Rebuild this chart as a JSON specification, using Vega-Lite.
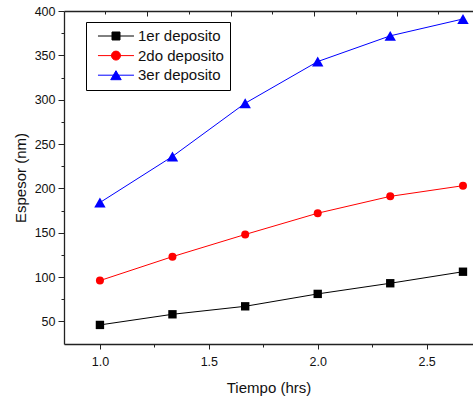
{
  "$schema": "https://vega.github.io/schema/vega-lite/v6.json",
  "width": 409,
  "height": 333,
  "autosize": {"type": "none"},
  "padding": {"left": 64, "top": 11, "right": 0, "bottom": 54},
  "background": "white",
  "config": {
    "font": "Liberation Sans",
    "view": {"stroke": null},
    "axis": {
      "grid": false,
      "domainColor": "#222222",
      "domainWidth": 1.3,
      "tickColor": "#222222",
      "tickWidth": 1,
      "labelColor": "#111111",
      "titleColor": "#111111",
      "labelFont": "Liberation Sans",
      "titleFont": "Liberation Sans",
      "labelFontSize": 12.5,
      "titleFontSize": 15,
      "titleFontWeight": "normal"
    }
  },
  "data": {
    "values": [
      {"tiempo": 1.0, "espesor": 46, "serie": "1er deposito"},
      {"tiempo": 1.333, "espesor": 58, "serie": "1er deposito"},
      {"tiempo": 1.667, "espesor": 67, "serie": "1er deposito"},
      {"tiempo": 2.0, "espesor": 81, "serie": "1er deposito"},
      {"tiempo": 2.333, "espesor": 93, "serie": "1er deposito"},
      {"tiempo": 2.667, "espesor": 106, "serie": "1er deposito"},
      {"tiempo": 1.0, "espesor": 96, "serie": "2do deposito"},
      {"tiempo": 1.333, "espesor": 123, "serie": "2do deposito"},
      {"tiempo": 1.667, "espesor": 148, "serie": "2do deposito"},
      {"tiempo": 2.0, "espesor": 172, "serie": "2do deposito"},
      {"tiempo": 2.333, "espesor": 191, "serie": "2do deposito"},
      {"tiempo": 2.667, "espesor": 203, "serie": "2do deposito"},
      {"tiempo": 1.0, "espesor": 184, "serie": "3er deposito"},
      {"tiempo": 1.333, "espesor": 236, "serie": "3er deposito"},
      {"tiempo": 1.667, "espesor": 296, "serie": "3er deposito"},
      {"tiempo": 2.0, "espesor": 343, "serie": "3er deposito"},
      {"tiempo": 2.333, "espesor": 372, "serie": "3er deposito"},
      {"tiempo": 2.667, "espesor": 391, "serie": "3er deposito"}
    ]
  },
  "encoding": {
    "x": {
      "field": "tiempo",
      "type": "quantitative",
      "scale": {"domain": [0.835, 2.713], "nice": false, "zero": false},
      "axis": null
    },
    "y": {
      "field": "espesor",
      "type": "quantitative",
      "scale": {"domain": [24.5, 400], "nice": false, "zero": false},
      "axis": {
        "title": "Espesor (nm)",
        "values": [50, 75, 100, 125, 150, 175, 200, 225, 250, 275, 300, 325, 350, 375, 400],
        "labelExpr": "datum.value % 50 === 0 ? datum.value : ''",
        "tickSize": {"condition": {"test": "datum.value % 50 === 0", "value": 6}, "value": 3},
        "labelPadding": 3,
        "labelFlush": false,
        "titlePadding": 6
      }
    }
  },
  "layer": [
    {
      "mark": {"type": "line", "strokeWidth": 1},
      "encoding": {
        "x": {
          "field": "tiempo",
          "type": "quantitative",
          "axis": {
            "orient": "bottom",
            "title": "Tiempo (hrs)",
            "values": [1, 1.25, 1.5, 1.75, 2, 2.25, 2.5],
            "labelExpr": "(datum.value * 2) % 1 === 0 ? format(datum.value, '.1f') : ''",
            "tickSize": {"condition": {"test": "(datum.value * 2) % 1 === 0", "value": 5}, "value": 3},
            "labelPadding": 6,
            "labelFlush": false,
            "titlePadding": 13
          }
        },
        "color": {
          "field": "serie",
          "type": "nominal",
          "scale": {
            "domain": ["1er deposito", "2do deposito", "3er deposito"],
            "range": ["#000000", "#ff0000", "#0000ff"]
          },
          "legend": {
            "title": null,
            "orient": "none",
            "legendX": 22,
            "legendY": 11,
            "padding": 6,
            "strokeColor": "#000000",
            "fillColor": "#ffffff",
            "labelFont": "Liberation Sans",
            "labelFontSize": 15,
            "labelColor": "#111111",
            "labelOffset": 30,
            "rowPadding": 3.6,
            "symbolSize": 225,
            "symbolStrokeWidth": 1,
            "symbolOpacity": 1
          }
        }
      }
    },
    {
      "transform": [{"filter": "datum.serie === '1er deposito'"}],
      "mark": {"type": "point", "shape": "square", "filled": true, "opacity": 1, "size": 70, "color": "#000000"},
      "encoding": {
        "x": {
          "field": "tiempo",
          "type": "quantitative",
          "axis": {
            "orient": "top",
            "title": null,
            "labels": false,
            "values": [1.023, 1.216, 1.409, 1.601, 1.79, 1.983, 2.175, 2.364, 2.552],
            "tickSize": {"condition": {"test": "indexof([1.216, 1.601, 1.983, 2.364], datum.value) >= 0", "value": -5}, "value": -3}
          }
        }
      }
    },
    {
      "transform": [{"filter": "datum.serie === '2do deposito'"}],
      "mark": {"type": "point", "shape": "circle", "filled": true, "opacity": 1, "size": 64, "color": "#ff0000"}
    },
    {
      "transform": [{"filter": "datum.serie === '3er deposito'"}],
      "mark": {"type": "point", "shape": "triangle-up", "filled": true, "opacity": 1, "size": 130, "color": "#0000ff"}
    },
    {
      "transform": [{"filter": "false"}],
      "mark": {"type": "point", "filled": true, "opacity": 1, "size": 225, "strokeWidth": 1},
      "encoding": {
        "fill": {
          "field": "serie",
          "type": "nominal",
          "scale": {
            "domain": ["1er deposito", "2do deposito", "3er deposito"],
            "range": ["#000000", "#ff0000", "#0000ff"]
          },
          "legend": {
            "title": null,
            "orient": "none",
            "legendX": 22,
            "legendY": 11,
            "padding": 6,
            "strokeColor": "#000000",
            "fillColor": "#ffffff",
            "labelFont": "Liberation Sans",
            "labelFontSize": 15,
            "labelColor": "#111111",
            "labelOffset": 30,
            "rowPadding": 3.6,
            "symbolSize": 225,
            "symbolStrokeWidth": 1,
            "symbolOpacity": 1
          }
        },
        "stroke": {
          "field": "serie",
          "type": "nominal",
          "scale": {
            "domain": ["1er deposito", "2do deposito", "3er deposito"],
            "range": ["#000000", "#ff0000", "#0000ff"]
          },
          "legend": {
            "title": null,
            "orient": "none",
            "legendX": 22,
            "legendY": 11,
            "padding": 6,
            "strokeColor": "#000000",
            "fillColor": "#ffffff",
            "labelFont": "Liberation Sans",
            "labelFontSize": 15,
            "labelColor": "#111111",
            "labelOffset": 30,
            "rowPadding": 3.6,
            "symbolSize": 225,
            "symbolStrokeWidth": 1,
            "symbolOpacity": 1
          }
        },
        "shape": {
          "field": "serie",
          "type": "nominal",
          "scale": {
            "domain": ["1er deposito", "2do deposito", "3er deposito"],
            "range": [
              "M-0.27,0H4.53M1.6,-0.533H2.666V0.533H1.6Z",
              "M-0.27,0H4.53M1.53,0A0.6,0.6 0 1,0 2.73,0A0.6,0.6 0 1,0 1.53,0Z",
              "M-0.27,0H4.53M2.13,-0.6L1.43,0.6H2.83Z"
            ]
          },
          "legend": {
            "title": null,
            "orient": "none",
            "legendX": 22,
            "legendY": 11,
            "padding": 6,
            "strokeColor": "#000000",
            "fillColor": "#ffffff",
            "labelFont": "Liberation Sans",
            "labelFontSize": 15,
            "labelColor": "#111111",
            "labelOffset": 30,
            "rowPadding": 3.6,
            "symbolSize": 225,
            "symbolStrokeWidth": 1,
            "symbolOpacity": 1
          }
        }
      }
    }
  ],
  "resolve": {"axis": {"x": "independent"}}
}
